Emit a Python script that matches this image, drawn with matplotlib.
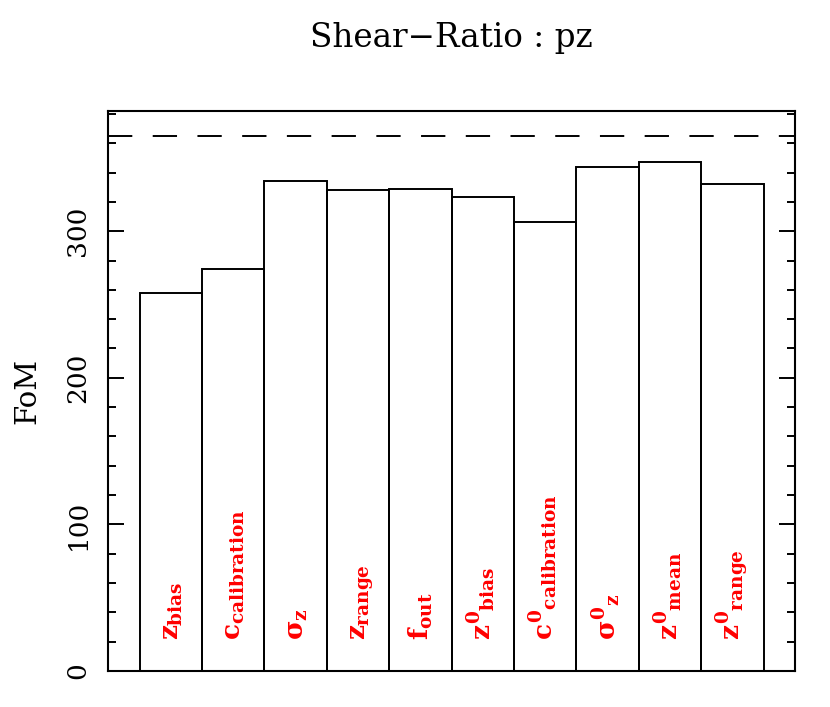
import matplotlib
matplotlib.use('Agg')
import matplotlib.pyplot as plt
import numpy as np
from matplotlib.ticker import MultipleLocator

DPI = 100

# FoM for each systematic that is switched on
labels = [r'$z_{bias}$', r'$c_{calibration}$', r'$\sigma_{z}$', r'$z_{range}$',
          r'$f_{out}$', r'$z^{0}{}_{bias}$', r'$c^{0}{}_{calibration}$',
          r'$\sigma^{0}{}_{z}$', r'$z^{0}{}_{mean}$', r'$z^{0}{}_{range}$']
fom = [258, 274, 334, 328, 329, 323, 306, 344, 347, 332]
fom_ref = 365  # no systematics (dashed line)

plt.rcParams['font.family'] = ['DejaVu Serif']
plt.rcParams['mathtext.fontset'] = 'custom'
plt.rcParams['mathtext.rm'] = 'DejaVu Serif:bold'
plt.rcParams['mathtext.it'] = 'DejaVu Serif:bold'
plt.rcParams['mathtext.bf'] = 'DejaVu Serif:bold'
plt.rcParams['mathtext.sf'] = 'DejaVu Serif:bold'

fig = plt.figure(figsize=(830 / DPI, 707 / DPI), dpi=DPI)
ax = fig.add_axes([0.1305, 0.0509, 0.8273, 0.7921])

x = np.arange(len(fom))
ax.bar(x, fom, width=1.0, align='edge', fill=False, edgecolor='black', linewidth=1.4)

# reference FoM
ax.plot([-0.5, 10.5], [fom_ref, fom_ref], color='black', linewidth=1.4,
        linestyle=(0, (12.5, 10.5)), solid_capstyle='butt', dash_capstyle='butt')

# systematic names written up the bars
for xi, lab in zip(x, labels):
    ax.text(xi + 0.5 + 0.13, 21, lab, color='red', fontsize=19, rotation=90,
            rotation_mode='anchor', ha='left', va='baseline')

ax.set_xlim(-0.5, 10.5)
ax.set_ylim(0, 382)
ax.set_xticks([])
ax.yaxis.set_major_locator(MultipleLocator(100))
ax.yaxis.set_minor_locator(MultipleLocator(20))
ax.tick_params(axis='y', which='both', direction='in', left=True, right=True, width=1.4)
ax.tick_params(axis='y', which='major', length=11.5, pad=13, labelsize=19)
ax.tick_params(axis='y', which='minor', length=6)
for lab in ax.get_yticklabels():
    lab.set_rotation(90)
    lab.set_va('center')
for sp in ax.spines.values():
    sp.set_linewidth(1.5)

fig.text(27 / 830, 1 - 391 / 707, 'FoM', rotation=90, ha='center', va='center', fontsize=21)
fig.text(451.5 / 830, 1 - 47 / 707, 'Shear\u2212Ratio : pz', ha='center', va='baseline', fontsize=23.5)

fig.savefig('out.png', dpi=DPI)
